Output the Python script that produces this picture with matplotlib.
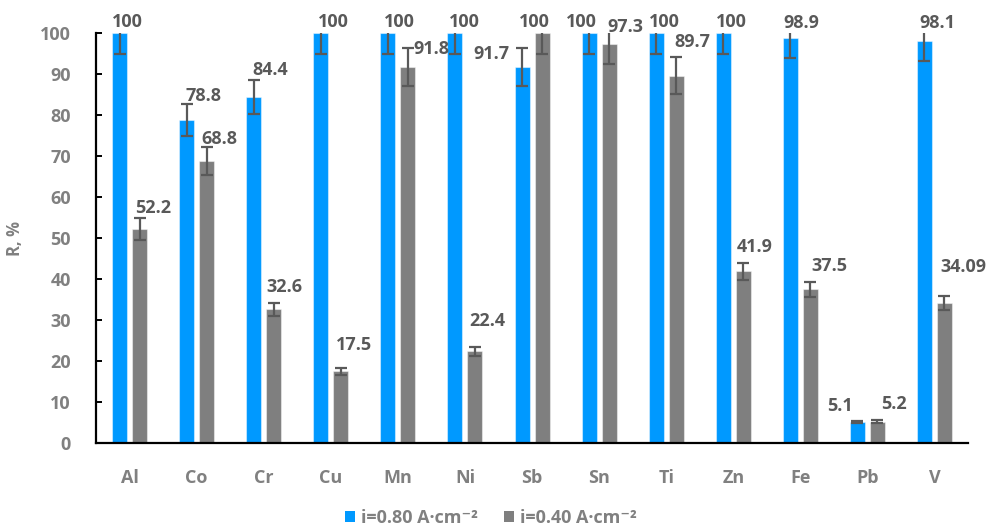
import matplotlib
matplotlib.use("Agg")
import matplotlib.pyplot as plt
from matplotlib.patches import Patch
import numpy as np

plt.rcParams['font.family'] = ['Open Sans', 'DejaVu Sans']

metals = ["Al", "Co", "Cr", "Cu", "Mn", "Ni", "Sb", "Sn", "Ti", "Zn", "Fe", "Pb", "V"]
r_080 = [100, 78.8, 84.4, 100, 100, 100, 91.7, 100, 100, 100, 98.9, 5.1, 98.1]
r_040 = [52.2, 68.8, 32.6, 17.5, 91.8, 22.4, 100, 97.3, 89.7, 41.9, 37.5, 5.2, 34.09]
err_080 = [5.0, 3.9, 4.2, 5.0, 5.0, 5.0, 4.6, 5.0, 5.0, 5.0, 5.0, 0.3, 4.9]
err_040 = [2.6, 3.5, 1.6, 0.9, 4.6, 1.1, 5.0, 4.9, 4.5, 2.1, 1.9, 0.3, 1.7]
txt_080 = ["100", "78.8", "84.4", "100", "100", "100", "91.7", "100", "100", "100", "98.9", "5.1", "98.1"]
txt_040 = ["52.2", "68.8", "32.6", "17.5", "91.8", "22.4", "100", "97.3", "89.7", "41.9", "37.5", "5.2", "34.09"]
series_names = ["i=0.80 A\u00b7cm\u207b\u00b2", "i=0.40 A\u00b7cm\u207b\u00b2"]

# hand-placed label nudges (pixels from the top centre of each bar)
nudge_080 = [(8, 11), (17, 24), (16, 27), (13, 11), (12, 11), (9, 11), (-31, 13),
             (-8, 11), (8, 11), (8, 11), (11, 15), (-17, 16), (13, 18)]
nudge_040 = [(14, 21), (13, 22), (11, 22), (13, 26), (24, 18), (12, 30), (-8, 11),
             (16, 17), (16, 34), (11, 24), (19, 23), (17, 18), (19, 36)]

BLUE = "#0099FF"
GREY = "#7F7F7F"
DARK = "#595959"
TICK = "#808080"

fig = plt.figure(figsize=(9.99, 5.32), dpi=100)
ax = fig.add_axes([0.0961, 0.1673, 0.8729, 0.7701])

x = np.arange(len(metals))
w = 0.2235
off = 0.149

for vals, errs, txts, nudges, dx, col in [
        (r_080, err_080, txt_080, nudge_080, -off, BLUE),
        (r_040, err_040, txt_040, nudge_040, off, GREY)]:
    ax.bar(x + dx, vals, width=w, color=col, edgecolor=(1, 1, 1, 0.45),
           linewidth=0.8, zorder=2)
    ax.errorbar(x + dx, vals, yerr=errs, fmt='none', ecolor=DARK,
                elinewidth=1.6, capsize=4, capthick=1.6, zorder=3)
    for xi, v, t, (nx, ny) in zip(x + dx, vals, txts, nudges):
        ax.annotate(t, (xi, v), xytext=(nx, ny), textcoords='offset pixels',
                    ha='center', va='center', fontsize=13, fontweight='bold',
                    color=DARK, annotation_clip=False, zorder=4)

ax.set_xlim(-0.5, len(metals) - 0.5)
ax.set_ylim(0, 100)
ax.set_yticks(range(0, 101, 10))
ax.set_xticks(x)
ax.set_xticklabels(metals)

for s in ["top", "right"]:
    ax.spines[s].set_visible(False)
for s in ["left", "bottom"]:
    ax.spines[s].set_linewidth(1.6)
    ax.spines[s].set_color("black")

ax.tick_params(axis='y', direction='in', length=4, width=1.4, pad=18,
               labelsize=13, labelcolor=TICK)
ax.tick_params(axis='x', length=0, pad=19, labelsize=13, labelcolor=TICK)
for lab in ax.get_xticklabels() + ax.get_yticklabels():
    lab.set_fontweight('bold')

ax.set_ylabel("R, %", fontsize=12, fontweight='bold', color=TICK)
ax.yaxis.set_label_coords(-0.083, 0.5)

handles = [Patch(facecolor=BLUE, edgecolor='none'), Patch(facecolor=GREY, edgecolor='none')]
fig.legend(handles, series_names, loc='center', bbox_to_anchor=(0.4915, 0.026),
           ncol=2, frameon=False, handlelength=0.55, handleheight=0.55,
           handletextpad=0.35, columnspacing=1.45,
           prop={'size': 13, 'weight': 'bold'}, labelcolor=TICK)

fig.savefig("out.png", dpi=100)
